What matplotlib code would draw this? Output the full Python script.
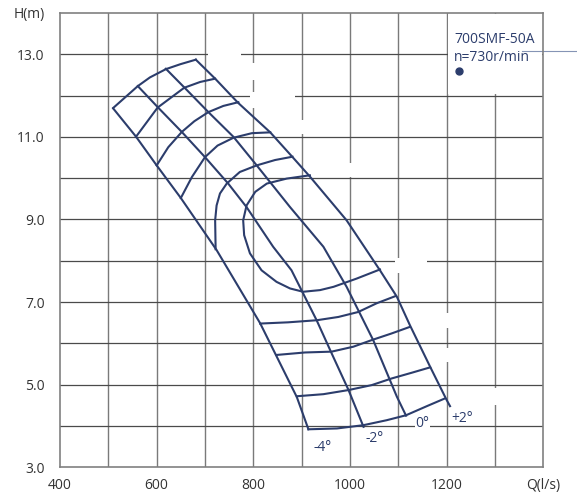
import numpy as np
import matplotlib.pyplot as plt
from matplotlib.patches import Rectangle

plt.rcParams['font.family'] = ['Open Sans', 'DejaVu Sans']

# curvas por angulo de pa (Q em l/s, H em m)
q_m4 = [510, 557, 600, 650, 724, 814, 890, 914]
h_m4 = [11.69, 11.01, 10.31, 9.52, 8.26, 6.49, 4.70, 3.92]

q_m2 = [561, 603, 652, 700, 748, 786, 841, 879, 931, 962, 997, 1028]
h_m2 = [12.23, 11.71, 11.12, 10.51, 9.87, 9.30, 8.34, 7.77, 6.56, 5.76, 4.87, 3.98]

q_0 = [619, 662, 707, 759, 807, 876, 945, 993, 1048, 1097, 1116]
h_0 = [12.65, 12.14, 11.60, 11.00, 10.31, 9.30, 8.34, 7.37, 6.08, 4.71, 4.25]

q_p2 = [681, 721, 768, 835, 882, 917, 993, 1062, 1097, 1124, 1166, 1200, 1207]
h_p2 = [12.87, 12.41, 11.83, 11.11, 10.50, 10.04, 8.98, 7.77, 7.13, 6.44, 5.43, 4.63, 4.48]

# envoltorias
q_topo = [510, 561, 586, 619, 649, 681]
h_topo = [11.70, 12.23, 12.44, 12.64, 12.76, 12.87]

q_base = [914, 973, 1028, 1076, 1116, 1159, 1197]
h_base = [3.92, 3.94, 4.02, 4.14, 4.26, 4.48, 4.67]

# curvas de rendimento
q_e1 = [557, 602, 657, 690, 721]
h_e1 = [11.00, 11.71, 12.19, 12.33, 12.41]

q_e2 = [600, 624, 652, 678, 707, 738, 769]
h_e2 = [10.31, 10.75, 11.12, 11.38, 11.60, 11.75, 11.84]

q_e3 = [650, 673, 700, 726, 759, 797, 835]
h_e3 = [9.52, 10.03, 10.51, 10.79, 10.98, 11.09, 11.11]

q_e4 = [722, 721, 724, 731, 745, 772, 807, 845, 881]
h_e4 = [8.28, 8.98, 9.34, 9.63, 9.87, 10.15, 10.31, 10.44, 10.52]

q_e5 = [917, 869, 828, 804, 786, 779, 781, 793, 817, 848, 876, 903, 938, 966, 1014, 1062]
h_e5 = [10.07, 9.99, 9.87, 9.67, 9.34, 8.98, 8.62, 8.18, 7.77, 7.49, 7.33, 7.25, 7.29, 7.37, 7.57, 7.79]

q_e6 = [814, 872, 931, 976, 1017, 1055, 1093]
h_e6 = [6.48, 6.51, 6.56, 6.64, 6.76, 6.97, 7.14]

q_e7 = [848, 907, 962, 1007, 1045, 1086, 1124]
h_e7 = [5.72, 5.78, 5.80, 5.92, 6.08, 6.24, 6.40]

q_e8 = [890, 945, 997, 1045, 1086, 1128, 1166]
h_e8 = [4.72, 4.77, 4.87, 4.99, 5.15, 5.29, 5.42]

rotulos = ['-4°', '-2°', '0°', '+2°']
q_rot = [943, 1050, 1150, 1231]
h_rot = [3.48, 3.70, 4.06, 4.19]

x_ticks = [400, 600, 800, 1000, 1200, 1400]
x_labels = ['400', '600', '800', '1000', '1200', 'Q(l/s)']
y_ticks = [3, 5, 7, 9, 11, 13, 14]
y_labels = ['3.0', '5.0', '7.0', '9.0', '11.0', '13.0', 'H(m)']

cor = '#2c3d6c'

fig = plt.figure(figsize=(5.77, 4.96), dpi=100)
ax = fig.add_axes([0.104, 0.0579, 0.8376, 0.9159])
ax.set_xlim(400, 1400)
ax.set_ylim(3, 14)

# grade
for x in range(500, 1400, 100):
    ax.axvline(x, color='#7a7a7a', lw=1.0, zorder=1)
for y in range(4, 14):
    ax.axhline(y, color='#4a4a4a', lw=0.9, zorder=1)

# falhas brancas na grade
falhas = [(706, 774, 12.93, 13.07), (794, 806, 12.37, 12.80), (794, 806, 11.71, 12.08),
          (797, 886, 11.95, 12.05), (894, 906, 11.06, 11.42), (994, 1006, 10.02, 10.36),
          (1093, 1159, 7.95, 8.05), (1094, 1106, 7.70, 8.06), (1194, 1206, 6.37, 6.73),
          (1194, 1206, 5.55, 5.90), (1294, 1306, 4.50, 4.93), (1203, 1397, 12.03, 13.97)]
for x0, x1, y0, y1 in falhas:
    ax.add_patch(Rectangle((x0, y0), x1 - x0, y1 - y0, facecolor='white',
                           edgecolor='none', zorder=1.5))

curvas = [(q_m4, h_m4), (q_m2, h_m2), (q_0, h_0), (q_p2, h_p2),
          (q_topo, h_topo), (q_base, h_base),
          (q_e1, h_e1), (q_e2, h_e2), (q_e3, h_e3), (q_e4, h_e4),
          (q_e5, h_e5), (q_e6, h_e6), (q_e7, h_e7), (q_e8, h_e8)]
for q, h in curvas:
    ax.plot(q, h, color=cor, lw=1.5, zorder=3, solid_joinstyle='round')

for r, q, h in zip(rotulos, q_rot, h_rot):
    bb = dict(facecolor='white', edgecolor='none', pad=0.5) if r == '0°' else None
    ax.text(q, h, r, color=cor, fontsize=10, ha='center', va='center', bbox=bb, zorder=4)

ax.text(1217, 13.36, '700SMF-50A', color=cor, fontsize=10, ha='left', va='center', zorder=4)
ax.text(1215, 12.93, 'n=730r/min', color=cor, fontsize=10, ha='left', va='center', zorder=4)
ax.plot([1225], [12.59], 'o', color=cor, ms=5, zorder=4)
ax.plot([1355, 1470], [13.09, 13.09], color='#8594b5', lw=0.8, clip_on=False, zorder=2)

ax.set_xticks(x_ticks)
ax.set_xticklabels(x_labels)
ax.set_yticks(y_ticks)
ax.set_yticklabels(y_labels)
ax.tick_params(length=0, labelsize=10, labelcolor='#333333')
ax.tick_params(axis='y', pad=11)
ax.tick_params(axis='x', pad=8)
for s in ax.spines.values():
    s.set_color('#808080')
    s.set_linewidth(1.2)

fig.savefig('out.png', dpi=100)
